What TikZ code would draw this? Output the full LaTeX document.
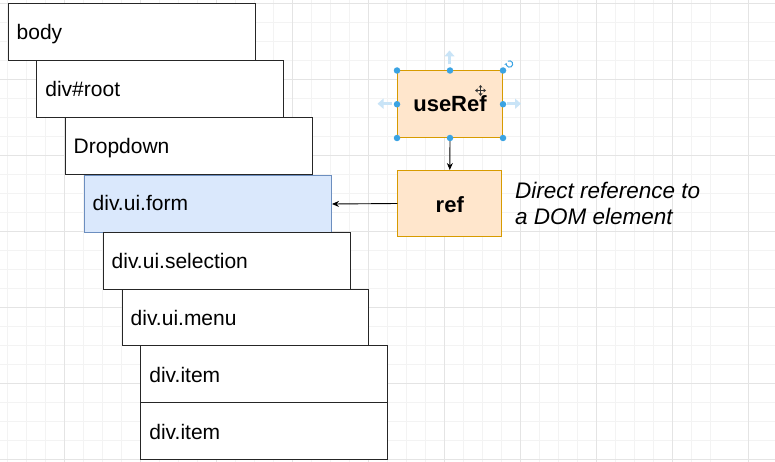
\documentclass[tikz,border=0pt]{standalone}
\usepackage{fontspec}
\setmainfont{Liberation Sans}
\usetikzlibrary{arrows.meta}
\definecolor{gridminor}{HTML}{F3F3F3}
\definecolor{gridmajor}{HTML}{E4E4E4}
\definecolor{orfill}{HTML}{FFE6CC}
\definecolor{ordraw}{HTML}{D79B00}
\definecolor{blfill}{HTML}{DAE8FC}
\definecolor{bldraw}{HTML}{6C8EBF}
\definecolor{handle}{HTML}{3AA3E3}
\definecolor{handlelight}{HTML}{C9E4F7}
\tikzset{
  elbox/.style={draw=black!85, line width=1pt, fill=white},
  formbox/.style={draw=bldraw, line width=1pt, fill=blfill},
  hookbox/.style={draw=ordraw, line width=1pt, fill=orfill},
  eltext/.style={anchor=base west, inner sep=0pt, font=\fontsize{21}{25}\selectfont},
  hooktext/.style={anchor=base, inner sep=0pt, font=\fontsize{22}{26}\bfseries\selectfont},
  desctext/.style={anchor=base west, inner sep=0pt, font=\fontsize{22.5}{26}\itshape\selectfont},
  conn/.style={draw=black, line width=0.9pt, -{Stealth[length=7pt,width=6pt]}},
  hdot/.style={circle, fill=handle, inner sep=0pt, minimum size=6.5pt},
  harrow/.style={draw=handlelight, line width=3pt, -{Triangle[length=6pt,width=10pt]}}
}
\begin{document}
\begin{tikzpicture}[x=1pt,y=-1pt]
\useasboundingbox (0,0) rectangle (775,462);
\fill[white] (0,0) rectangle (775,462);
% grid
\foreach \i in {-3,...,37} {
  \draw[gridminor, line width=0.8pt] ({7.3+19*\i},0) -- ({7.3+19*\i},462);
}
\foreach \j in {0,...,24} {
  \draw[gridminor, line width=0.8pt] (0,{3.7+19*\j}) -- (775,{3.7+19*\j});
}
\foreach \i in {-1,...,9} {
  \draw[gridmajor, line width=0.8pt] ({64.3+76*\i},0) -- ({64.3+76*\i},462);
}
\foreach \j in {0,...,6} {
  \draw[gridmajor, line width=0.8pt] (0,{3.7+76*\j}) -- (775,{3.7+76*\j});
}
% element stack
\draw[elbox] (8,4) rectangle (255,61);
\node[eltext] (tbody) at (16.5,40) {body};
\draw[elbox] (36.7,61) rectangle (283.7,118);
\node[eltext] (troot) at (45.2,97) {div\#root};
\draw[elbox] (65,118) rectangle (312,175);
\node[eltext] (tdrop) at (73.5,154) {Dropdown};
\node[formbox, minimum width=247pt, minimum height=57pt, inner sep=0pt, anchor=north west] (form) at (84,175) {};
\node[eltext] (tform) at (92.5,211) {div.ui.form};
\draw[elbox] (103,232) rectangle (350,289);
\node[eltext] (tsel) at (111.5,268) {div.ui.selection};
\draw[elbox] (122,289) rectangle (368.5,345.5);
\node[eltext] (tmenu) at (130.5,325) {div.ui.menu};
\draw[elbox] (140.7,345.5) rectangle (387,402);
\node[eltext] (titem1) at (149.2,382) {div.item};
\draw[elbox] (140.7,402) rectangle (387,459);
\node[eltext] (titem2) at (149.2,439) {div.item};
% hooks
\node[hookbox, minimum width=105pt, minimum height=66.5pt, inner sep=0pt, anchor=north west] (useref) at (397,70.5) {};
\node[hooktext] (tuseref) at (useref.center) [yshift=-7.7pt] {useRef};
\node[hookbox, minimum width=104pt, minimum height=66pt, inner sep=0pt, anchor=north west] (ref) at (397.3,170) {};
\node[hooktext] (tref) at (ref.center) [yshift=-8.5pt] {ref};
\node[desctext] (desc1) at (515,198.3) {Direct reference to};
\node[desctext] (desc2) at (515,224.3) {a DOM element};
% connectors
\draw[conn] (useref.south) -- (ref.north);
\draw[conn] (ref.west) -- (form.east);
% selection handles
\coordinate (hup) at (449.5,50.5);
\coordinate (hleft) at (377.5,103.7);
\coordinate (hright) at (521,103.7);
\draw[harrow] ([yshift=-14pt]hup) -- (hup);
\draw[harrow] ([xshift=14pt]hleft) -- (hleft);
\draw[harrow] ([xshift=-14pt]hright) -- (hright);
\foreach \a in {north west, north, north east, west, east, south west, south, south east} {
  \node[hdot] at (useref.\a) {};
}
\coordinate (rot) at (509.5,64);
\draw[handle, line width=1pt, -{Stealth[length=2.5pt,width=3pt]}] (rot) ++(120:3.2pt) arc[start angle=120, end angle=-200, radius=3.2pt];
% move cursor
\coordinate (mv) at (480.5,90.5);
\draw[black!80, line width=1pt] ([xshift=-4pt]mv) -- ([xshift=4pt]mv) ([yshift=-4pt]mv) -- ([yshift=4pt]mv);
\fill[black!80] ([xshift=-5.5pt]mv) -- ([xshift=-3pt,yshift=-2pt]mv) -- ([xshift=-3pt,yshift=2pt]mv) -- cycle;
\fill[black!80] ([xshift=5.5pt]mv) -- ([xshift=3pt,yshift=-2pt]mv) -- ([xshift=3pt,yshift=2pt]mv) -- cycle;
\fill[black!80] ([yshift=-5.5pt]mv) -- ([yshift=-3pt,xshift=-2pt]mv) -- ([yshift=-3pt,xshift=2pt]mv) -- cycle;
\fill[black!80] ([yshift=5.5pt]mv) -- ([yshift=3pt,xshift=-2pt]mv) -- ([yshift=3pt,xshift=2pt]mv) -- cycle;
\end{tikzpicture}
\end{document}
